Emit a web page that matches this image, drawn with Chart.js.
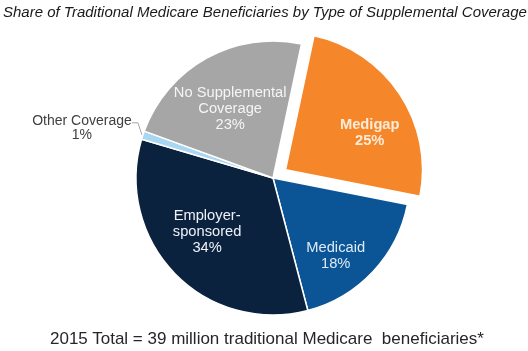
<!DOCTYPE html>
<html>
<head>
<meta charset="utf-8">
<script src="https://cdn.jsdelivr.net/npm/chart.js@4"></script>
<style>
  body { margin: 0; background: #fff; }
  #wrap { position: relative; width: 528px; height: 351px; font-family: 'Liberation Sans', Arial, sans-serif; }
  #grafico { position: absolute; left: 0; top: 0; }
  .titulo { position: absolute; left: 3px; top: 3px; font-size: 15px; font-style: italic; color: #1a1a1a; white-space: nowrap; }
  .rodape { position: absolute; left: 50px; top: 329px; font-size: 17px; color: #262626; white-space: pre; }
</style>
</head>
<body>
<div id="wrap">
  <canvas id="grafico" width="528" height="351"></canvas>
  <div class="titulo">Share of Traditional Medicare Beneficiaries by Type of Supplemental Coverage</div>
  <div class="rodape">2015 Total = 39 million traditional Medicare  beneficiaries*</div>
</div>
<script>
// Dados do gráfico
const categorias = ['Medigap', 'Medicaid', 'Employer-sponsored', 'Other Coverage', 'No Supplemental Coverage'];
const percentuais = [25, 18, 34, 1, 23];
const rotulos = [['Medigap'], ['Medicaid'], ['Employer-', 'sponsored'], ['Other Coverage'], ['No Supplemental', 'Coverage']];
const cores = ['#f5862a', '#0b5596', '#0b223f', '#a9d6f0', '#a6a6a6'];
const destaque = [60, 0, 0, 0, 0];

// Posição dos rótulos: desvio de ângulo (graus) e fração do raio
const estiloRotulos = [
  { da: 10, fr: 0.67, cor: '#fdebd8', peso: 'bold' },
  { da: 8, fr: 0.73, cor: '#dcebf7', peso: 'normal' },
  { da: 5, fr: 0.62, cor: '#eef2f7', peso: 'normal' },
  { externo: true, cor: '#404040' },
  { da: -3, fr: 0.59, cor: '#f5f5f5', peso: 'normal' }
];

const pluginRotulos = {
  id: 'rotulos',
  afterDatasetsDraw(chart) {
    const ctx = chart.ctx;
    const arcos = chart.getDatasetMeta(0).data;
    ctx.save();
    ctx.textAlign = 'center';
    ctx.textBaseline = 'middle';
    arcos.forEach((arco, i) => {
      const { x, y, startAngle, endAngle, outerRadius } = arco.getProps(['x', 'y', 'startAngle', 'endAngle', 'outerRadius'], true);
      const meio = (startAngle + endAngle) / 2;
      const desloc = (arco.options.offset || 0) / 4;
      const cx = x + Math.cos(meio) * desloc;
      const cy = y + Math.sin(meio) * desloc;
      const est = estiloRotulos[i];
      const linhas = rotulos[i].concat([percentuais[i] + '%']);
      ctx.fillStyle = est.cor;
      if (est.externo) {
        // rótulo externo com linha guia
        const p0x = cx + Math.cos(meio) * (outerRadius + 1);
        const p0y = cy + Math.sin(meio) * (outerRadius + 1);
        const p1x = p0x - 4, p1y = p0y - 12;
        const tx = p1x - 56, ty = p1y + 5;
        ctx.strokeStyle = '#a6a6a6';
        ctx.lineWidth = 1;
        ctx.beginPath();
        ctx.moveTo(p0x, p0y);
        ctx.lineTo(p1x, p1y);
        ctx.lineTo(p1x - 6, p1y);
        ctx.stroke();
        ctx.font = '14px "Liberation Sans", Arial, sans-serif';
        linhas.forEach((t, k) => ctx.fillText(t, tx, ty + (k - (linhas.length - 1) / 2) * 14));
        return;
      }
      const ang = meio + est.da * Math.PI / 180;
      const px = cx + Math.cos(ang) * outerRadius * est.fr;
      const py = cy + Math.sin(ang) * outerRadius * est.fr;
      ctx.font = est.peso + ' 14.7px "Liberation Sans", Arial, sans-serif';
      linhas.forEach((t, k) => ctx.fillText(t, px, py + (k - (linhas.length - 1) / 2) * 16));
    });
    ctx.restore();
  }
};

const ctxPizza = document.getElementById('grafico').getContext('2d');
new Chart(ctxPizza, {
  type: 'pie',
  data: {
    labels: categorias,
    datasets: [{
      data: percentuais,
      backgroundColor: cores,
      borderColor: '#ffffff',
      borderWidth: 1.5,
      offset: destaque
    }]
  },
  options: {
    responsive: false,
    animation: false,
    rotation: 12,
    radius: 137,
    layout: { padding: { left: 18, right: 0, top: 5, bottom: 0 } },
    plugins: {
      legend: { display: false },
      tooltip: { enabled: false }
    }
  },
  plugins: [pluginRotulos]
});
</script>
</body>
</html>
